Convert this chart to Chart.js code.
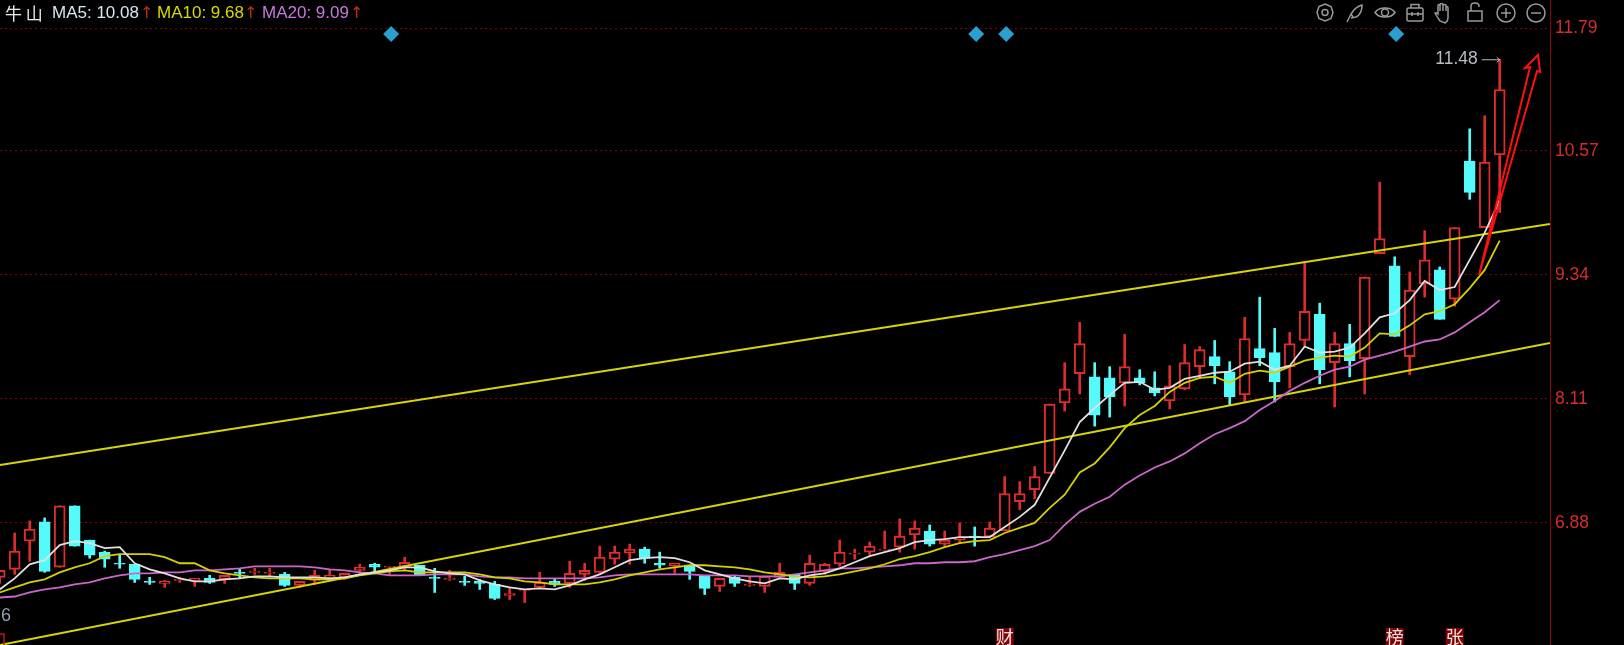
<!DOCTYPE html>
<html lang="zh">
<head>
<meta charset="utf-8">
<title>牛山</title>
<script src="https://cdn.jsdelivr.net/npm/chart.js@4/dist/chart.umd.min.js"></script>
<style>
html,body{margin:0;padding:0;background:#000;width:1624px;height:645px;overflow:hidden}
#wrap{position:relative;width:1624px;height:645px}
canvas{display:block}
.h{position:absolute;top:1px;font:17px/24px "Liberation Sans",Arial,sans-serif;white-space:pre}
.u{color:#c42a22;font-family:"DejaVu Sans";font-size:16px}
#icons{position:absolute;left:1310px;top:0;width:240px;height:26px}
#datehint{position:absolute;left:1px;top:605px;font:18px/20px "Liberation Sans",Arial,sans-serif;color:#8fa0b0}
</style>
</head>
<body>
<div id="wrap">
<canvas id="c" width="1624" height="645"></canvas>
<div class="h" style="left:5px;color:#e8e8e8;font-family:'Noto Sans CJK SC';font-size:17px">牛 山</div>
<div class="h" style="left:52px;color:#d4e6f0">MA5: 10.08</div><div class="h u" style="left:140px">↑</div>
<div class="h" style="left:157px;color:#d8d800">MA10: 9.68</div><div class="h u" style="left:244px">↑</div>
<div class="h" style="left:262px;color:#c878e0">MA20: 9.09</div><div class="h u" style="left:350px">↑</div>
<div id="datehint">6</div>
<svg id="icons" viewBox="1310 0 240 26" fill="none" stroke="#999" stroke-width="1.5">
  <path d="M1325 4l6 2.5 2 6-2 6-6 2.5-6-2.5-2-6 2-6z"/><circle cx="1325" cy="12.5" r="3"/>
  <path d="M1347 22l4-8c3-5 7-8 11-9 0 5-2 10-6 12l-5 1"/><path d="M1351 14l2 3"/>
  <path d="M1375 12.5c4-6 16-6 20 0-4 6-16 6-20 0z"/><circle cx="1385" cy="12.5" r="3.5"/>
  <rect x="1407" y="8" width="16" height="13" rx="1.5"/><path d="M1411 8V4.5h8V8M1407 14h16M1412 12v4M1418 12v4"/>
  <path d="M1440 21c-2-3-4-6-5-8 1-1 2 0 3 1V6c0-2 2-2 2 0v5-6c0-2 3-2 3 0v6-5c0-2 3-2 3 0v5-3c0-2 2-2 2 0v9c0 3-1 5-3 6z"/>
  <rect x="1468" y="11" width="14" height="10"/><path d="M1471 11V6c0-4 8-4 8 0v1"/>
  <circle cx="1506" cy="13" r="9"/><path d="M1501 13h10M1506 8v10"/>
  <circle cx="1536" cy="13" r="9"/><path d="M1531 13h10"/>
</svg>
</div>
<script>
const tickValues = [11.79, 10.57, 9.34, 8.11, 6.88];
const open = [6.34,6.42,6.70,6.89,6.44,7.05,6.71,6.59,6.48,6.47,
6.30,6.28,6.31,6.31,6.33,6.32,6.39,6.39,6.38,6.37,
6.26,6.31,6.34,6.34,6.41,6.47,6.44,6.44,6.46,6.34,
6.32,6.30,6.30,6.27,6.16,6.21,6.24,6.30,6.28,6.37,
6.39,6.52,6.58,6.62,6.48,6.45,6.46,6.35,6.25,6.34,
6.26,6.25,6.34,6.37,6.28,6.40,6.47,6.57,6.59,6.61,
6.64,6.76,6.80,6.67,6.71,6.75,6.74,6.80,7.09,7.21,
7.37,8.07,8.36,8.33,8.32,8.27,8.32,8.22,8.09,8.21,
8.43,8.53,8.38,8.15,8.61,8.57,8.43,8.69,8.95,8.47,
8.66,8.51,9.55,9.43,8.53,9.25,9.39,9.10,10.47,9.81,10.53];
const close = [6.41,6.60,6.82,6.40,7.05,6.65,6.56,6.52,6.47,6.32,
6.29,6.30,6.32,6.33,6.29,6.36,6.38,6.40,6.39,6.26,
6.30,6.36,6.36,6.38,6.44,6.44,6.45,6.49,6.36,6.33,
6.33,6.29,6.28,6.13,6.18,6.22,6.29,6.27,6.38,6.41,
6.54,6.59,6.62,6.53,6.46,6.48,6.40,6.23,6.33,6.28,
6.27,6.35,6.39,6.28,6.48,6.47,6.59,6.58,6.65,6.62,
6.75,6.83,6.67,6.71,6.74,6.74,6.83,7.17,7.17,7.34,
8.06,8.21,8.66,7.95,8.13,8.43,8.27,8.17,8.24,8.47,
8.60,8.44,8.13,8.71,8.52,8.28,8.66,8.98,8.40,8.66,
8.49,9.32,9.70,8.73,9.19,9.49,8.90,9.81,10.16,10.46,11.18];
const high = [6.41,6.78,6.90,6.93,7.05,7.05,6.71,6.60,6.56,6.47,
6.34,6.31,6.34,6.33,6.36,6.36,6.42,6.43,6.43,6.39,
6.30,6.41,6.41,6.38,6.47,6.48,6.45,6.54,6.46,6.43,
6.41,6.35,6.32,6.30,6.24,6.22,6.39,6.32,6.50,6.48,
6.65,6.65,6.67,6.64,6.59,6.48,6.46,6.35,6.33,6.35,
6.35,6.35,6.48,6.37,6.56,6.48,6.71,6.62,6.69,6.80,
6.92,6.90,6.86,6.80,6.88,6.84,6.89,7.34,7.29,7.44,
8.06,8.47,8.87,8.47,8.43,8.75,8.40,8.38,8.44,8.65,
8.63,8.69,8.48,8.92,9.12,8.81,8.77,9.47,9.06,8.77,
8.85,9.32,10.26,9.52,9.37,9.78,9.42,9.81,10.79,10.92,11.48];
const low = [6.28,6.37,6.50,6.39,6.44,6.65,6.53,6.44,6.43,6.29,
6.27,6.24,6.29,6.25,6.28,6.28,6.33,6.37,6.34,6.25,
6.24,6.27,6.31,6.32,6.38,6.38,6.36,6.41,6.36,6.19,
6.31,6.26,6.22,6.12,6.12,6.09,6.24,6.25,6.24,6.31,
6.38,6.47,6.47,6.48,6.43,6.38,6.32,6.17,6.20,6.25,
6.25,6.19,6.34,6.22,6.26,6.37,6.45,6.52,6.56,6.61,
6.59,6.62,6.65,6.64,6.68,6.65,6.74,6.80,7.01,7.12,
7.37,7.99,8.16,7.84,7.93,8.04,8.25,8.14,8.01,8.20,
8.31,8.26,8.05,8.08,8.44,8.08,8.22,8.63,8.26,8.03,
8.33,8.16,9.55,8.73,8.35,9.12,8.90,9.03,10.09,9.81,9.96];
const ma5 = [6.22,6.33,6.47,6.51,6.66,6.70,6.68,6.63,6.64,6.48,
6.42,6.38,6.33,6.30,6.30,6.32,6.33,6.35,6.35,6.34,
6.34,6.34,6.33,6.34,6.37,6.39,6.41,6.44,6.44,6.40,
6.38,6.37,6.31,6.27,6.24,6.22,6.23,6.22,6.26,6.32,
6.37,6.44,6.51,6.53,6.54,6.53,6.49,6.41,6.37,6.33,
6.30,6.28,6.33,6.32,6.36,6.38,6.43,6.49,6.55,6.59,
6.63,6.69,6.71,6.72,6.74,6.74,6.74,6.84,6.94,7.06,
7.33,7.60,7.88,8.02,8.15,8.27,8.28,8.20,8.22,8.31,
8.34,8.37,8.38,8.46,8.48,8.40,8.44,8.63,8.57,8.58,
8.62,8.76,8.92,8.96,9.09,9.28,9.19,9.22,9.49,9.76,10.08];
const ma10 = [6.19,6.24,6.29,6.32,6.39,6.44,6.48,6.55,6.57,6.57,
6.57,6.54,6.48,6.48,6.41,6.38,6.36,6.34,6.33,6.33,
6.33,6.32,6.32,6.33,6.36,6.38,6.40,6.41,6.39,6.39,
6.39,6.39,6.37,6.34,6.33,6.30,6.29,6.27,6.27,6.27,
6.29,6.32,6.36,6.39,6.42,6.44,6.46,6.46,6.45,6.44,
6.42,6.39,6.37,6.35,6.34,6.35,6.37,6.40,6.43,6.47,
6.52,6.55,6.59,6.64,6.68,6.70,6.71,6.78,6.83,6.88,
7.03,7.16,7.38,7.47,7.63,7.82,7.95,8.04,8.18,8.27,
8.32,8.33,8.27,8.36,8.39,8.37,8.43,8.49,8.52,8.54,
8.53,8.62,8.76,8.75,8.84,8.95,8.98,9.05,9.21,9.39,9.68];
const ma20 = [6.14,6.15,6.19,6.22,6.24,6.27,6.29,6.33,6.36,6.38,
6.38,6.39,6.39,6.41,6.41,6.42,6.43,6.45,6.45,6.45,
6.45,6.44,6.42,6.41,6.39,6.38,6.36,6.36,6.36,6.37,
6.37,6.37,6.35,6.34,6.34,6.33,6.33,6.33,6.33,6.33,
6.34,6.36,6.37,6.37,6.37,6.37,6.37,6.36,6.36,6.36,
6.35,6.35,6.35,6.37,6.39,6.41,6.43,6.43,6.44,6.45,
6.46,6.48,6.48,6.49,6.49,6.50,6.54,6.57,6.61,6.65,
6.71,6.86,6.99,7.07,7.14,7.26,7.35,7.43,7.49,7.57,
7.67,7.76,7.82,7.89,8.00,8.09,8.19,8.27,8.34,8.40,
8.43,8.50,8.54,8.58,8.63,8.68,8.70,8.77,8.87,8.97,9.09];
const trendUpperX = [0.02, 103.35], trendUpperY = [7.455, 9.846];
const trendLowerX = [0.02, 103.35], trendLowerY = [5.669, 8.665];
const arrowX = [98.62, 102.02, 101.69, 102.55, 102.69, 102.49, 98.62];
const arrowY = [9.34, 11.403, 11.393, 11.522, 11.354, 11.363, 9.34];
const diamondIdx = [26.1, 65.1, 67.1, 93.1];
const diamondVal = [11.73, 11.73, 11.73, 11.73];
const eventIdx = [67, 93, 97];
const eventText = ['财', '榜', '张'];
const peakIdx = 100, peakVal = 11.48, peakLabel = '11.48';

const RED = '#dc2c2c', CYAN = '#55fbfb';
const isUp = open.map((o, i) => close[i] >= o);
const xy = (xs, ys) => xs.map((x, i) => ({x, y: ys[i]}));
const lineDs = (label, data, color, width, order) => ({type: 'line', label, data, borderColor: color, borderWidth: width,
  pointRadius: 0, pointHoverRadius: 0, tension: 0, fill: false, order});

const overlay = {
  id: 'overlay',
  afterDatasetsDraw(chart) {
    const {ctx, scales: {x, y}} = chart;
    ctx.save();
    eventIdx.forEach((idx, k) => {
      const cx = x.getPixelForValue(idx);
      ctx.fillStyle = '#7d0505';
      ctx.fillRect(cx - 9, 628, 18, 17);
      ctx.fillStyle = '#f0e0e0';
      ctx.font = '18px "Noto Sans CJK SC"';
      ctx.textAlign = 'center'; ctx.textBaseline = 'top';
      ctx.fillText(eventText[k], cx, 628);
    });
    ctx.strokeStyle = '#c01818'; ctx.lineWidth = 1.5;
    ctx.strokeRect(-8, 634, 12, 14);
    const px = x.getPixelForValue(peakIdx), py = y.getPixelForValue(peakVal);
    ctx.strokeStyle = '#b8b8b8'; ctx.lineWidth = 1;
    ctx.beginPath();
    ctx.moveTo(px - 18, py + .5); ctx.lineTo(px, py + .5);
    ctx.moveTo(px - 3, py - 2); ctx.lineTo(px, py + .5); ctx.lineTo(px - 3, py + 3);
    ctx.stroke();
    ctx.fillStyle = '#b4bcc4';
    ctx.font = '17.5px "Liberation Sans"';
    ctx.textAlign = 'right'; ctx.textBaseline = 'middle';
    ctx.fillText(peakLabel, px - 22, py);
    ctx.restore();
  }
};

new Chart(document.getElementById('c'), {
  data: {
    datasets: [
      {type: 'bar', label: 'wick', order: 10, grouped: false, barThickness: 2,
       data: low.map((l, i) => ({x: i, y: [l, high[i]]})),
       backgroundColor: isUp.map(u => u ? RED : CYAN), borderWidth: 0},
      {type: 'bar', label: 'body', order: 9, grouped: false, barThickness: 11, borderSkipped: false,
       data: open.map((o, i) => ({x: i, y: [o, close[i]]})),
       backgroundColor: isUp.map(u => u ? '#000' : CYAN),
       borderColor: isUp.map(u => u ? RED : CYAN), borderWidth: 2},
      lineDs('upper', xy(trendUpperX, trendUpperY), '#d6d600', 2, 8),
      lineDs('lower', xy(trendLowerX, trendLowerY), '#d6d600', 2, 7),
      lineDs('MA20', ma20.map((v, i) => ({x: i, y: v})), '#cc66cc', 1.8, 6),
      lineDs('MA10', ma10.map((v, i) => ({x: i, y: v})), '#d2d200', 1.8, 5),
      lineDs('MA5', ma5.map((v, i) => ({x: i, y: v})), '#e0e0e0', 1.8, 4),
      lineDs('arrow', xy(arrowX, arrowY), '#ff1010', 2, 3),
      {type: 'scatter', label: 'marks', order: 2, data: xy(diamondIdx, diamondVal), pointStyle: 'rectRot', pointRadius: 8,
       pointHoverRadius: 8, backgroundColor: '#2b9fd0', borderWidth: 0, showLine: false}
    ]
  },
  options: {
    responsive: false, animation: false, events: [],
    layout: {padding: 0, autoPadding: false},
    plugins: {legend: {display: false}, tooltip: {enabled: false}, title: {display: false}},
    scales: {
      x: {type: 'linear', display: false, min: 0.02, max: 103.353, offset: false},
      y: {
        type: 'linear', position: 'right', min: 5.669, max: 12.0678,
        afterFit(s) { s.width = 74; s.paddingTop = 0; s.paddingBottom = 0; },
        afterBuildTicks(s) { s.ticks = tickValues.map(value => ({value})); },
        grid: {color: '#8a0000', lineWidth: 1, drawTicks: false},
        border: {color: '#8a0505', width: 1, dash: [2, 3]},
        ticks: {color: '#d62c2c', padding: 5, font: {family: '"Liberation Sans"', size: 17.5},
                autoSkip: false, callback: v => Number(v).toFixed(2)}
      }
    }
  },
  plugins: [overlay]
});
</script>
</body>
</html>
